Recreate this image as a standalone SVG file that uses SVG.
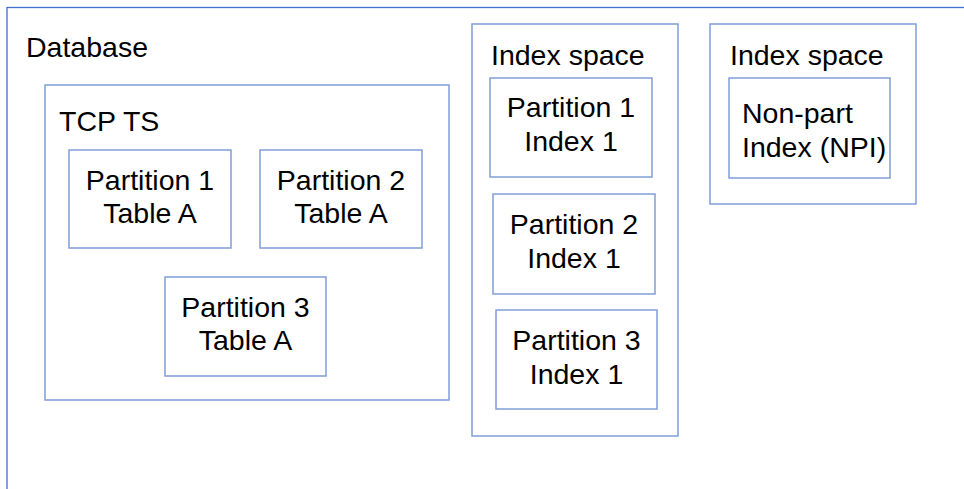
<svg xmlns="http://www.w3.org/2000/svg" width="964" height="489" viewBox="0 0 964 489">
  <style>
    .outer { fill: none; stroke: #3F6FD0; stroke-width: 1.3; }
    .box { fill: #FFFFFF; stroke: #7F9ED8; stroke-width: 1.5; }
    .lbl { font-family: "Liberation Sans", Arial, sans-serif; font-size: 28.5px; fill: #000000; }
    .mid { text-anchor: middle; }
  </style>
  <rect width="964" height="489" fill="#FFFFFF"/>

  <!-- Database container -->
  <g id="database">
    <rect class="outer" x="7" y="7.5" width="970" height="500"/>
    <text class="lbl" x="26" y="57">Database</text>
  </g>

  <!-- Table space with its partitions -->
  <g id="tcp-ts">
    <rect class="box" x="45" y="85" width="404" height="315"/>
    <text class="lbl" x="59" y="131">TCP TS</text>
  </g>
  <g id="partition1-tableA">
    <rect class="box" x="69" y="150" width="162" height="98"/>
    <text class="lbl mid" x="150" y="190">Partition 1</text>
    <text class="lbl mid" x="150" y="223">Table A</text>
  </g>
  <g id="partition2-tableA">
    <rect class="box" x="260" y="150" width="162" height="98"/>
    <text class="lbl mid" x="341" y="190">Partition 2</text>
    <text class="lbl mid" x="341" y="223">Table A</text>
  </g>
  <g id="partition3-tableA">
    <rect class="box" x="165" y="277" width="161" height="99"/>
    <text class="lbl mid" x="245.5" y="317">Partition 3</text>
    <text class="lbl mid" x="245.5" y="350">Table A</text>
  </g>

  <!-- Partitioned index space -->
  <g id="index-space-1">
    <rect class="box" x="472" y="24" width="206" height="412"/>
    <text class="lbl" x="491" y="65">Index space</text>
  </g>
  <g id="partition1-index1">
    <rect class="box" x="490" y="78" width="162" height="99"/>
    <text class="lbl mid" x="571" y="117">Partition 1</text>
    <text class="lbl mid" x="571" y="151">Index 1</text>
  </g>
  <g id="partition2-index1">
    <rect class="box" x="493" y="194" width="162" height="100"/>
    <text class="lbl mid" x="574" y="234">Partition 2</text>
    <text class="lbl mid" x="574" y="268">Index 1</text>
  </g>
  <g id="partition3-index1">
    <rect class="box" x="496" y="310" width="161" height="99"/>
    <text class="lbl mid" x="576.5" y="350">Partition 3</text>
    <text class="lbl mid" x="576.5" y="384">Index 1</text>
  </g>

  <!-- Non-partitioned index space -->
  <g id="index-space-2">
    <rect class="box" x="710" y="24" width="206" height="180"/>
    <text class="lbl" x="730" y="65">Index space</text>
  </g>
  <g id="npi">
    <rect class="box" x="729" y="78" width="161" height="100"/>
    <text class="lbl" x="742" y="123">Non-part</text>
    <text class="lbl" x="742" y="157">Index (NPI)</text>
  </g>

  <g id="connectors"/>
</svg>
